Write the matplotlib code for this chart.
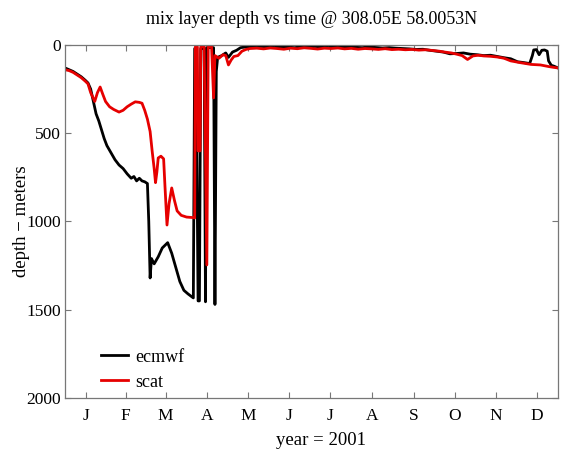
import matplotlib.pyplot as plt

# ---- data (day of year 2001, mixed layer depth in metres) ----
ecmwf_day = [0, 3, 6, 9, 12, 15, 17, 19, 21, 23, 25, 27, 29, 31, 34, 37, 40, 43,
             46, 49, 51, 53, 55, 57, 59, 61, 62, 63, 64, 66, 69, 72, 76, 79, 82,
             85, 88, 91, 95, 96, 97, 98.5, 99.5, 100.5, 103, 104, 104.8, 110, 111,
             112, 113, 116, 119, 121, 124, 127, 130, 135, 140, 145, 150, 155, 160,
             165, 170, 175, 180, 185, 190, 195, 200, 205, 210, 215, 220, 225, 230,
             235, 240, 245, 250, 255, 260, 265, 270, 275, 280, 285, 290, 295, 300,
             305, 310, 315, 320, 325, 330, 335, 340, 344, 346, 347, 349, 351, 353,
             355, 357, 358, 360, 362, 365]
ecmwf_depth = [130, 140, 150, 165, 180, 200, 215, 250, 320, 390, 430, 480, 530,
               570, 610, 650, 680, 700, 730, 755, 745, 770, 755, 770, 775, 785,
               1000, 1320, 1210, 1240, 1200, 1150, 1120, 1180, 1260, 1340, 1390,
               1410, 1433, 20, 20, 1450, 1450, 20, 20, 1455, 15, 15, 1470, 150, 70,
               60, 45, 70, 40, 30, 15, 10, 12, 8, 10, 14, 9, 12, 15, 10, 12, 8, 11,
               14, 10, 12, 9, 13, 15, 11, 14, 17, 15, 18, 20, 22, 25, 24, 30, 35,
               40, 50, 48, 45, 52, 55, 60, 58, 65, 72, 78, 95, 100, 105, 60, 28, 26,
               55, 30, 28, 35, 90, 115, 120, 130]

scat_day = [0, 3, 6, 9, 12, 15, 17, 19, 22, 24, 26, 28, 30, 33, 36, 40, 43, 46,
            49, 52, 55, 57, 59, 61, 63, 64.5, 66, 67, 68, 69, 71, 73, 74, 75.5, 77,
            79, 81, 83, 86, 90, 95, 96, 96.5, 98, 98.5, 100, 100.5, 103, 105, 106,
            108.5, 110, 111, 114, 117, 119, 121, 123, 125, 128, 131, 134, 137, 142,
            147, 152, 157, 162, 167, 172, 177, 182, 187, 192, 197, 202, 207, 212,
            217, 222, 227, 232, 237, 242, 247, 252, 257, 262, 267, 272, 277, 281,
            286, 290, 294, 298, 302, 306, 310, 315, 320, 325, 330, 337, 345, 352,
            358, 362, 365]
scat_depth = [140, 145, 155, 170, 185, 205, 220, 270, 320, 270, 238, 280, 320,
              350, 365, 380, 370, 350, 335, 322, 325, 330, 370, 420, 490, 600, 700,
              780, 720, 640, 630, 645, 800, 1020, 900, 810, 880, 940, 965, 975, 978,
              980, 10, 10, 600, 600, 10, 10, 1246, 10, 10, 300, 60, 75, 55, 60, 113,
              85, 65, 60, 35, 25, 20, 18, 22, 17, 20, 24, 18, 21, 16, 19, 23, 18,
              20, 17, 22, 19, 24, 20, 22, 25, 21, 26, 24, 27, 25, 29, 27, 31, 35, 40,
              45, 52, 60, 82, 62, 58, 62, 64, 68, 75, 90, 100, 110, 113, 122, 127,
              130]

month_ticks = [15.5, 45, 74.5, 105, 135.5, 166, 196.5, 227.5, 258, 288.5, 319, 349.5]
month_labels = ["J", "F", "M", "A", "M", "J", "J", "A", "S", "O", "N", "D"]
depth_ticks = [0, 500, 1000, 1500, 2000]

plt.rcParams["font.family"] = ["Liberation Serif", "DejaVu Serif"]

fig = plt.figure(figsize=(5.61, 4.5), dpi=100)
ax = fig.add_axes([0.1159, 0.1156, 0.8788, 0.7844])

ax.plot(ecmwf_day, ecmwf_depth, color="black", lw=2.0, label="ecmwf")
ax.plot(scat_day, scat_depth, color="#e60000", lw=2.0, label="scat")

ax.set_xlim(0, 365)
ax.set_ylim(2000, 0)
ax.set_xticks(month_ticks)
ax.set_xticklabels(month_labels)
ax.set_yticks(depth_ticks)
ax.tick_params(direction="in", length=4, width=0.8, color="#777777",
               labelsize=12.5, top=True, right=True, pad=3)
ax.tick_params(axis="x", pad=7)
for sp in ax.spines.values():
    sp.set_color("#777777")
    sp.set_linewidth(0.9)

ax.set_title("mix layer depth vs time @ 308.05E 58.0053N", fontsize=13, pad=15)
ax.set_ylabel("depth \u2212 meters", fontsize=13.5)
ax.yaxis.set_label_coords(-0.072, 0.5)
ax.set_xlabel("year = 2001", fontsize=13.5)
ax.xaxis.set_label_coords(0.52, -0.095)

ax.legend(loc="lower left", frameon=False, fontsize=13, handlelength=1.5,
          handletextpad=0.4, borderaxespad=0.0, bbox_to_anchor=(0.058, 0.0),
          labelspacing=0.45)

fig.savefig("out.png", dpi=100)
